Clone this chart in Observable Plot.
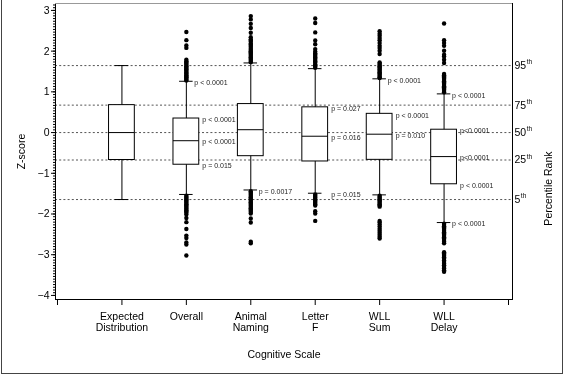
<!DOCTYPE html>
<html>
<head>
<meta charset="utf-8">
<script src="https://cdn.jsdelivr.net/npm/d3@7"></script>
<script src="https://cdn.jsdelivr.net/npm/@observablehq/plot@0.6"></script>
<style>
  body { margin: 0; background: #fff; }
  #wrap { position: absolute; left: 1px; top: 0; width: 560px; height: 373px; border: 1px solid #444; border-top: none; }
  #chart { position: absolute; left: 0; top: 0; will-change: transform; }
  #chart svg { will-change: transform; }
</style>
</head>
<body>
<div id="wrap"></div>
<div id="chart"></div>
<script>
// ---- data ----
const categories = ["Expected\nDistribution", "Overall", "Animal\nNaming", "Letter\nF", "WLL\nSum", "WLL\nDelay"];
const catPos = [1, 2, 3, 4, 5, 6];
const whiskerLow  = [-1.645, -1.52, -1.41, -1.49, -1.53, -2.21];
const q1          = [-0.674, -0.79, -0.58, -0.71, -0.67, -1.27];
const median      = [0, -0.20, 0.07, -0.09, -0.04, -0.59];
const q3          = [0.674, 0.345, 0.70, 0.62, 0.46, 0.07];
const whiskerHigh = [1.645, 1.26, 1.71, 1.57, 1.32, 0.95];

const outOverall = [2.47, 2.27, 2.14, 2.08, 1.79, 1.75, 1.72, 1.69, 1.66, 1.63, 1.60, 1.57, 1.55, 1.52, 1.49, 1.46, 1.44, 1.41, 1.38, 1.36, 1.33, 1.30, 1.28,
  -1.55, -1.58, -1.61, -1.64, -1.67, -1.70, -1.73, -1.76, -1.79, -1.82, -1.85, -1.88, -1.91, -1.94, -1.97, -2.01, -2.10, -2.20, -2.37, -2.53, -2.59, -2.70, -2.75, -3.02];
const outAnimal = [2.86, 2.78, 2.67, 2.57, 2.45, 2.34, 2.29, 2.26, 2.23, 2.19, 2.16, 2.13, 2.10, 2.06, 2.03, 2.00, 1.97, 1.94, 1.91, 1.88, 1.85, 1.82, 1.79, 1.76, 1.73,
  -1.44, -1.47, -1.50, -1.53, -1.56, -1.59, -1.62, -1.65, -1.68, -1.71, -1.74, -1.77, -1.80, -1.83, -1.86, -1.89, -1.92, -1.95, -1.99, -2.11, -2.21, -2.68, -2.72];
const outLetterF = [2.80, 2.69, 2.46, 2.26, 2.17, 2.05, 1.99, 1.95, 1.92, 1.88, 1.85, 1.82, 1.78, 1.75, 1.72, 1.68, 1.65, 1.62, 1.59,
  -1.52, -1.55, -1.58, -1.61, -1.64, -1.67, -1.70, -1.73, -1.76, -1.79, -1.93, -1.99, -2.17];
const outWllSum = [2.49, 2.43, 2.38, 2.32, 2.27, 2.20, 2.13, 2.08, 2.01, 1.93, 1.72, 1.69, 1.66, 1.63, 1.60, 1.57, 1.54, 1.51, 1.48, 1.45, 1.42, 1.39, 1.36, 1.34,
  -1.55, -1.58, -1.61, -1.64, -1.67, -1.70, -1.73, -1.76, -1.79, -1.82, -2.17, -2.21, -2.26, -2.31, -2.36, -2.41, -2.46, -2.51, -2.56, -2.60];
const outWllDelay = [2.68, 2.27, 2.20, 2.13, 2.01, 1.91, 1.87, 1.79, 1.71, 1.44, 1.41, 1.38, 1.35, 1.32, 1.29, 1.26, 1.23, 1.20, 1.17, 1.14, 1.11, 1.08, 1.05, 1.02, 0.99,
  -2.24, -2.27, -2.30, -2.33, -2.36, -2.39, -2.42, -2.45, -2.48, -2.51, -2.54, -2.57, -2.60, -2.64, -2.68, -2.72,
  -2.94, -2.97, -3.00, -3.03, -3.06, -3.10, -3.14, -3.18, -3.22, -3.26, -3.30, -3.34, -3.38, -3.42];

const percentileZ = [1.645, 0.674, 0, -0.674, -1.645];
const percentileLabel = ["95", "75", "50", "25", "5"];

const pCat  = [2, 2, 2, 2, 3, 4, 4, 4, 5, 5, 5, 6, 6, 6, 6, 6];
const pStat = ["hi", "q3", "med", "q1", "lo", "q3", "med", "lo", "hi", "q3", "med", "hi", "q3", "med", "q1", "lo"];
const pText = ["p < 0.0001", "p < 0.0001", "p < 0.0001", "p = 0.015", "p = 0.0017", "p = 0.027", "p = 0.016", "p = 0.015",
  "p < 0.0001", "p < 0.0001", "p = 0.010", "p < 0.0001", "p<0.0001", "p<0.0001", "p < 0.0001", "p < 0.0001"];
const pAt   = ["cap", "box", "box", "box", "cap", "box", "box", "box", "cap", "box", "box", "cap", "box", "box", "box", "cap"];

const yTicks = [-4, -3, -2, -1, 0, 1, 2, 3];
const xTicks = [0, 1, 2, 3, 4, 5, 6, 7];

// ---- tables ----
const stats = catPos.map((x, i) => ({x, lo: whiskerLow[i], q1: q1[i], med: median[i], q3: q3[i], hi: whiskerHigh[i]}));
const outliers = [
  ...outOverall.map(z => ({x: 2, z})),
  ...outAnimal.map(z => ({x: 3, z})),
  ...outLetterF.map(z => ({x: 4, z})),
  ...outWllSum.map(z => ({x: 5, z})),
  ...outWllDelay.map(z => ({x: 6, z}))
];
const pLabels = pCat.map((c, i) => ({x: c, z: stats[c - 1][pStat[i]], text: pText[i], at: pAt[i]}));
const pct = percentileZ.map((z, i) => ({z, label: percentileLabel[i]}));

const minorTicks = d3.range(-60, 48).map(i => i / 15);
const boxHalf = 0.2, capHalf = 0.105;
const font = "'Liberation Sans', Arial, sans-serif";

const chart = Plot.plot({
  width: 565, height: 377,
  marginLeft: 55, marginRight: 53, marginTop: 3, marginBottom: 78,
  style: {fontFamily: font, fontSize: "10.5px", color: "#000", background: "transparent"},
  x: {domain: [-0.031, 7.062]},
  y: {domain: [-4.1, 3.17]},
  marks: [
    Plot.ruleY(percentileZ, {stroke: "#555", strokeWidth: 1, strokeDasharray: "2,2.2"}),
    Plot.ruleX(stats, {x: "x", y1: "lo", y2: "hi", stroke: "#000"}),
    Plot.ruleY(stats, {y: "lo", x1: d => d.x - capHalf, x2: d => d.x + capHalf, stroke: "#000"}),
    Plot.ruleY(stats, {y: "hi", x1: d => d.x - capHalf, x2: d => d.x + capHalf, stroke: "#000"}),
    Plot.rect(stats, {x1: d => d.x - boxHalf, x2: d => d.x + boxHalf, y1: "q1", y2: "q3", fill: "#fff", stroke: "#000"}),
    Plot.ruleY(stats, {y: "med", x1: d => d.x - boxHalf, x2: d => d.x + boxHalf, stroke: "#000"}),
    Plot.dot(outliers, {x: "x", y: "z", r: 2.2, fill: "#000", stroke: "none"}),
    Plot.text(pLabels.filter(d => d.at === "cap"), {x: "x", y: "z", text: "text", textAnchor: "start", dx: 8, dy: 1.5, fontSize: 7, fill: "#222"}),
    Plot.text(pLabels.filter(d => d.at === "box"), {x: "x", y: "z", text: "text", textAnchor: "start", dx: 16, dy: 1.5, fontSize: 7, fill: "#222"}),
    Plot.text(pct, {y: "z", text: "label", frameAnchor: "right", textAnchor: "start", dx: 2, fontSize: 10.5}),
    Plot.text(pct, {y: "z", text: () => "th", frameAnchor: "right", textAnchor: "start", dx: 0, fontSize: 6.5}),
    Plot.text(["Percentile Rank"], {text: d => d, frameAnchor: "right", rotate: -90, dx: 36, fontSize: 10.5}),
    Plot.axisY({ticks: minorTicks, tickSize: 2, tickFormat: () => "", label: null}),
    Plot.axisY({ticks: yTicks, tickSize: 4, tickPadding: 2, fontSize: 10.5, label: "Z-score", labelAnchor: "center", labelOffset: 38, labelArrow: "none"}),
    Plot.axisX({ticks: xTicks, tickSize: 6, tickPadding: 6, tickFormat: d => (d >= 1 && d <= 6 ? categories[d - 1] : ""), lineHeight: 1.1, fontSize: 10.5,
      label: "Cognitive Scale", labelAnchor: "center", labelOffset: 58, labelArrow: "none"}),
    Plot.frame({stroke: "#000"}),
    Plot.ruleY([3.17], {stroke: "#999"})
  ]
});

document.getElementById("chart").appendChild(chart);
// superscript "th": place right after each rendered percentile number
const groups = Array.from(chart.querySelectorAll("g[aria-label='text']"));
const numG = groups.find(g => Array.from(g.querySelectorAll("text")).some(t => t.textContent === "95"));
const thG = groups.find(g => Array.from(g.querySelectorAll("text")).every(t => t.textContent === "th"));
if (numG && thG) {
  const nums = numG.querySelectorAll("text");
  const ths = thG.querySelectorAll("text");
  ths.forEach((t, i) => {
    const w = nums[i].getComputedTextLength();
    const tr = nums[i].getAttribute("transform") || "";
    t.setAttribute("transform", tr);
    t.setAttribute("x", (parseFloat(nums[i].getAttribute("x") || 0) + w + 2.5).toString());
    t.setAttribute("dy", "-0.55em");
  });
}
</script>
</body>
</html>
